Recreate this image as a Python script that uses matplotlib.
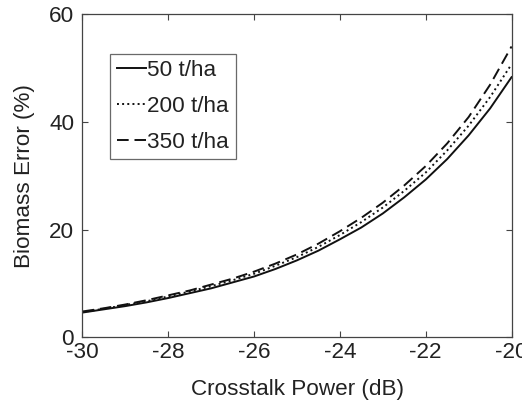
import matplotlib
matplotlib.use("Agg")
import matplotlib.pyplot as plt

crosstalk_db = [-30, -29.5, -29, -28.5, -28, -27.5, -27, -26.5, -26, -25.5, -25,
                -24.5, -24, -23.5, -23, -22.5, -22, -21.5, -21, -20.5, -20]
err_50 = [4.6, 5.2, 5.8, 6.5, 7.3, 8.2, 9.1, 10.2, 11.3, 12.7, 14.3,
          16.1, 18.2, 20.4, 23.0, 26.0, 29.3, 33.1, 37.5, 42.5, 48.3]
err_200 = [4.7, 5.3, 6.0, 6.7, 7.6, 8.5, 9.5, 10.6, 11.8, 13.3, 14.9,
           16.8, 19.0, 21.4, 24.1, 27.2, 30.6, 34.7, 39.3, 44.6, 50.7]
err_350 = [4.8, 5.4, 6.1, 6.9, 7.8, 8.7, 9.8, 10.9, 12.2, 13.7, 15.4,
           17.4, 19.7, 22.2, 25.0, 28.2, 31.8, 36.0, 40.9, 46.9, 54.0]
labels = ["50 t/ha", "200 t/ha", "350 t/ha"]
xticks = [-30, -28, -26, -24, -22, -20]
yticks = [0, 20, 40, 60]

plt.rcParams['font.family'] = ['Liberation Sans', 'DejaVu Sans']
plt.rcParams['axes.unicode_minus'] = False
txt = '#222222'
fs = 16.2
fig = plt.figure(figsize=(5.22, 4.04), dpi=100)
ax = fig.add_axes([0.158, 0.165, 0.822, 0.800])

ax.plot(crosstalk_db, err_50, '-', color='#111111', lw=1.4, label=labels[0])
ax.plot(crosstalk_db, err_200, ':', color='#111111', lw=1.4, label=labels[1])
ax.plot(crosstalk_db, err_350, '--', color='#111111', lw=1.4, label=labels[2], dashes=(6, 3))

ax.set_xlim(-30, -20)
ax.set_ylim(0, 60)
ax.set_xticks(xticks)
ax.set_yticks(yticks)
ax.tick_params(direction='in', top=True, right=True, length=4, width=0.8,
               labelsize=fs, colors='#444444', labelcolor=txt)
ax.tick_params(axis='x', pad=3)
ax.tick_params(axis='y', pad=6)
for s in ax.spines.values():
    s.set_color('#444444')
    s.set_linewidth(0.9)
ax.set_xlabel('Crosstalk Power (dB)', fontsize=fs, color=txt, labelpad=12)
ax.set_ylabel('Biomass Error (%)', fontsize=fs, color=txt, labelpad=10)

leg = ax.legend(loc='upper left', bbox_to_anchor=(0.065, 0.878), borderaxespad=0,
                fontsize=fs, frameon=True, fancybox=False, handlelength=1.3,
                handletextpad=0.05, labelspacing=0.65, borderpad=0.3)
leg.get_frame().set_edgecolor('#444444')
leg.get_frame().set_linewidth(0.9)
for t in leg.get_texts():
    t.set_color(txt)

fig.savefig('out.png', dpi=100)
